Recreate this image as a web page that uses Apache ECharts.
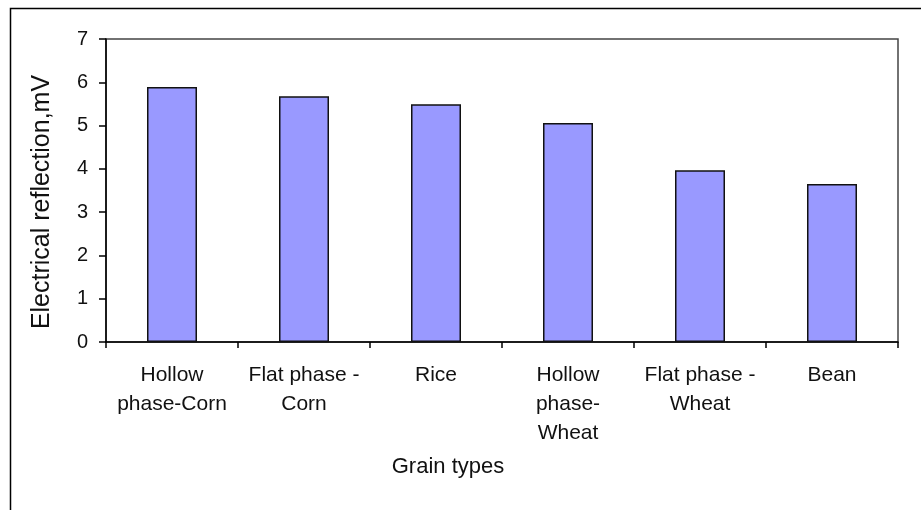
<!DOCTYPE html>
<html>
<head>
<meta charset="utf-8">
<script src="https://cdn.jsdelivr.net/npm/echarts@6/dist/echarts.min.js"></script>
<style>
  html, body { margin: 0; padding: 0; background: #fff; }
  #grafico { width: 921px; height: 510px; }
</style>
</head>
<body>
<div id="grafico"></div>
<script>
// dados
const tipos = ['Hollow\nphase-Corn', 'Flat phase -\nCorn', 'Rice', 'Hollow\nphase-\nWheat', 'Flat phase -\nWheat', 'Bean'];
const reflexao = [5.89, 5.68, 5.49, 5.06, 3.97, 3.65];
const ticksY = [0, 1, 2, 3, 4, 5, 6, 7];

const fonte = 'Liberation Sans, Arial, sans-serif';
const grafico = echarts.init(document.getElementById('grafico'));

const option = {
    animation: false,
    backgroundColor: '#fff',
    grid: {
        left: 106, right: 23, top: 39, bottom: 168,
        show: true,
        borderColor: '#444',
        borderWidth: 1.5
    },
    xAxis: {
        type: 'category',
        data: tipos,
        axisLine: { lineStyle: { color: '#000', width: 1.5 } },
        axisTick: { show: true, length: 6, lineStyle: { color: '#000', width: 1.5 } },
        axisLabel: {
            interval: 0,
            margin: 19,
            color: '#111',
            fontFamily: fonte,
            fontSize: 21,
            lineHeight: 29
        }
    },
    yAxis: {
        type: 'value',
        min: ticksY[0],
        max: ticksY[ticksY.length - 1],
        interval: 1,
        splitLine: { show: false },
        axisLine: { show: true, lineStyle: { color: '#000', width: 1.5 } },
        axisTick: { show: true, length: 7, lineStyle: { color: '#000', width: 1.5 } },
        axisLabel: {
            margin: 18,
            color: '#111',
            fontFamily: fonte,
            fontSize: 20
        }
    },
    graphic: [
        {
            type: 'rect',
            shape: { x: 10.5, y: 8.5, width: 1000, height: 1000 },
            style: { fill: 'none', stroke: '#000', lineWidth: 1.5 },
            silent: true
        },
        {
            // titulo do eixo Y (rotacionado)
            type: 'text',
            x: 42, y: 202,
            rotation: Math.PI / 2,
            style: {
                text: 'Electrical reflection,mV',
                fill: '#111',
                font: '25px ' + fonte,
                textAlign: 'center',
                textVerticalAlign: 'middle'
            }
        },
        {
            type: 'text',
            x: 448, y: 467,
            style: {
                text: 'Grain types',
                fill: '#111',
                font: '22px ' + fonte,
                textAlign: 'center',
                textVerticalAlign: 'middle'
            }
        }
    ],
    series: [{
        type: 'bar',
        data: reflexao,
        barWidth: 50,
        itemStyle: {
            color: '#9999FF',
            borderColor: '#111',
            borderWidth: 1.5
        }
    }]
};

grafico.setOption(option);
</script>
</body>
</html>
